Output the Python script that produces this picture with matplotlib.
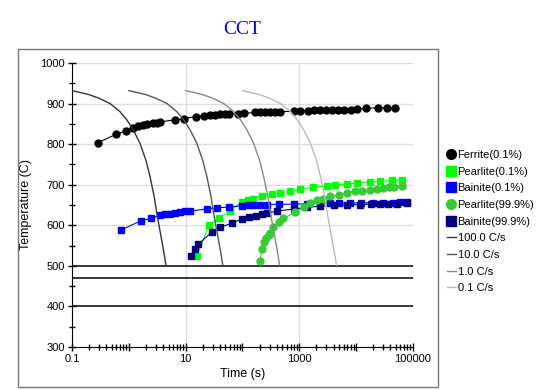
import matplotlib
matplotlib.use('Agg')
import matplotlib.pyplot as plt
from matplotlib.lines import Line2D
from matplotlib.patches import Rectangle
from matplotlib.ticker import LogLocator, NullFormatter, MultipleLocator

plt.rcParams['font.family'] = ['Liberation Sans', 'DejaVu Sans']

# --- data ---
ferrite_t = [0.29, 0.59, 0.88, 1.17, 1.44, 1.76, 2.1, 2.63, 3.1, 3.6, 6.5, 9.3, 15, 21, 27, 33, 40,
             49, 58, 83, 107, 167, 204, 250, 300, 370, 450, 790, 1030, 1400, 1800, 2300, 2900,
             3700, 4700, 6000, 8000, 10200, 15000, 24500, 34500, 49000]
ferrite_T = [804, 824, 832, 840, 845, 847, 849, 851, 853, 855, 860, 863, 868, 870, 871, 873, 874,
             874, 875, 875, 876, 878, 878, 879, 879, 880, 880, 881, 882, 882, 883, 883, 884,
             884, 884, 885, 885, 886, 888, 890, 890, 890]

pearlite01_t = [15.7, 26, 38, 60, 98, 125, 155, 218, 330, 460, 690, 1020, 1760, 3040, 4270,
                6900, 10300, 17600, 26000, 43000, 63000]
pearlite01_T = [525, 601, 617, 635, 658, 662, 666, 672, 677, 680, 684, 689, 694, 697, 699,
                702, 704, 707, 708, 711, 712]

bainite01_t = [0.72, 1.62, 2.5, 3.5, 4.3, 5.3, 6.5, 7.9, 9.7, 12, 23.5, 35, 59, 97, 125, 155,
               200, 265, 430, 790, 1360, 2330, 3500, 4900, 7800, 12000, 20000, 30000, 45000,
               60000, 80000]
bainite01_T = [588, 611, 617, 625, 627, 629, 631, 632, 634, 635, 640, 643, 645, 648, 649, 650,
               650, 651, 652, 652, 653, 654, 654, 655, 655, 655, 656, 656, 656, 657, 657]

pearlite999_t = [204, 218, 240, 262, 288, 308, 345, 430, 525, 845, 1200, 1550, 2040, 2600, 3470,
                 4900, 6900, 9600, 12500, 17600, 23000, 30000, 38000, 46000, 63000]
pearlite999_T = [513, 542, 560, 568, 576, 582, 597, 607, 617, 632, 645, 654, 662, 664, 671,
                 675, 680, 684, 685, 687, 690, 693, 694, 695, 697]

bainite999_t = [12.4, 14.6, 16.7, 28.6, 41, 66, 97, 130, 170, 220, 270, 400, 790, 1360, 2330,
                4000, 6900, 11700, 18000, 26000, 37000, 52000, 78000]
bainite999_T = [525, 541, 553, 583, 595, 606, 615, 620, 624, 627, 630, 635, 640, 644, 647,
                649, 650, 651, 652, 652, 652, 652, 654]

# cooling curves (same temperatures, times read per curve)
cool_T = [932, 922, 913, 900, 880, 860, 835, 802, 760, 720, 670, 630, 580, 539, 502]
cool_t_100 = [0.1, 0.2, 0.3, 0.47, 0.7, 0.92, 1.2, 1.57, 2.0, 2.36, 2.8, 3.1, 3.6, 4.07, 4.5]
cool_t_10 = [1, 2, 3, 4.7, 7, 9.2, 12, 15.7, 20, 23.6, 28, 31, 36, 40.7, 45]
cool_t_1 = [10, 20, 30, 47, 70, 92, 120, 157, 200, 236, 280, 310, 360, 407, 450]
cool_t_01 = [100, 200, 300, 470, 700, 920, 1200, 1570, 2000, 2360, 2800, 3100, 3600, 4070, 4500]
cool_labels = ['100.0 C/s', '10.0 C/s', '1.0 C/s', '0.1 C/s']
cool_colors = ['#333333', '#555555', '#888888', '#bbbbbb']

# horizontal temperature lines
hlines_T = [500, 470, 400]

# --- figure ---
fig = plt.figure(figsize=(5.51, 3.90), dpi=100)
fig.patches.append(Rectangle((18 / 551, 1 - 387 / 390), 420 / 551, 338 / 390,
                             transform=fig.transFigure, fill=False, edgecolor='#777777', lw=1))
ax = fig.add_axes([72 / 551, 1 - 347 / 390, 341 / 551, 284 / 390])

ax.set_xscale('log')
ax.set_xlim(0.1, 100000)
ax.set_ylim(300, 1000)

for x in [10, 1000]:
    ax.axvline(x, color='#dddddd', lw=1, zorder=0)
for y in range(600, 1001, 100):
    ax.axhline(y, color='#dddddd', lw=1, zorder=0)
for y in hlines_T:
    ax.axhline(y, color='black', lw=1.1, zorder=2)

ms = 5
ax.plot(ferrite_t, ferrite_T, '-o', color='black', ms=ms, lw=0.8, zorder=3)
ax.plot(pearlite01_t, pearlite01_T, '-s', color='#00ff00', ms=ms, lw=0.8, zorder=3)
ax.plot(bainite01_t, bainite01_T, '-s', color='#0000ff', ms=ms, lw=0.8, zorder=3)
ax.plot(bainite999_t, bainite999_T, '-s', color='#000080', ms=ms, lw=0.8, zorder=3)
ax.plot(pearlite999_t, pearlite999_T, '-o', color='#33cc33', ms=ms, lw=0.8, zorder=3)

for tt, c in zip([cool_t_100, cool_t_10, cool_t_1, cool_t_01], cool_colors):
    ax.plot(tt, cool_T, color=c, lw=1, zorder=4)

ax.spines['top'].set_visible(False)
ax.spines['right'].set_visible(False)

ax.set_xticks([0.1, 1, 10, 100, 1000, 10000, 100000])
ax.set_xticklabels(['0.1', '', '10', '', '1000', '', '100000'])
ax.xaxis.set_minor_locator(LogLocator(base=10, subs=range(2, 10), numticks=20))
ax.xaxis.set_minor_formatter(NullFormatter())
ax.yaxis.set_major_locator(MultipleLocator(100))
ax.yaxis.set_minor_locator(MultipleLocator(50))
ax.tick_params(which='major', direction='inout', length=6, width=1, labelsize=8, pad=2)
ax.tick_params(which='minor', direction='inout', length=4, width=1)

ax.set_xlabel('Time (s)', fontsize=9, labelpad=3)
ax.set_ylabel('Temperature (C)', fontsize=9, labelpad=6)
ax.set_title('CCT', fontsize=14, color='#0000ff', family='Liberation Serif', pad=21)

handles = [
    Line2D([], [], ls='none', marker='o', color='black', ms=7),
    Line2D([], [], ls='none', marker='s', color='#00ff00', ms=7),
    Line2D([], [], ls='none', marker='s', color='#0000ff', ms=7),
    Line2D([], [], ls='none', marker='o', color='#33cc33', ms=7),
    Line2D([], [], ls='none', marker='s', color='#000080', ms=7),
]
labels = ['Ferrite(0.1%)', 'Pearlite(0.1%)', 'Bainite(0.1%)', 'Pearlite(99.9%)', 'Bainite(99.9%)']
for lab, c in zip(cool_labels, cool_colors):
    handles.append(Line2D([], [], color=c, lw=1))
    labels.append(lab)

fig.legend(handles, labels, loc='upper left', bbox_to_anchor=(447 / 551, 1 - 150 / 390),
           frameon=False, fontsize=8, handlelength=0.8, handletextpad=0.15,
           labelspacing=0.6, borderpad=0, borderaxespad=0)

fig.savefig('out.png', dpi=100)
